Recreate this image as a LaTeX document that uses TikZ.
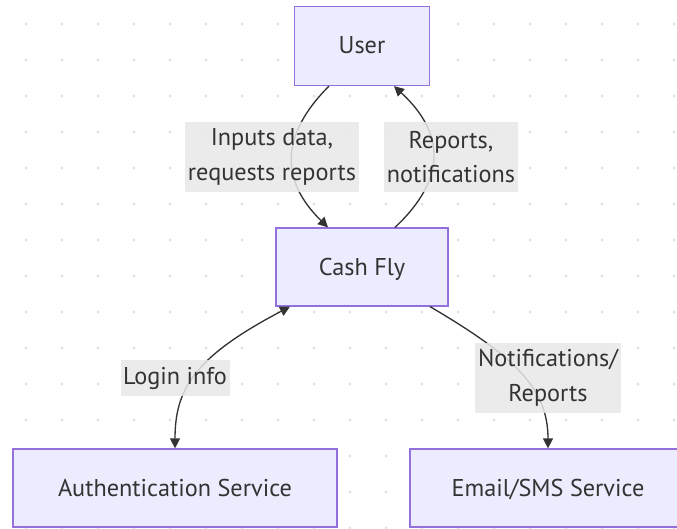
\documentclass[tikz,border=0pt]{standalone}
\usepackage{fontspec}
\setmainfont{PT Sans}
\usetikzlibrary{arrows.meta}
\definecolor{boxfill}{HTML}{ECECFF}
\definecolor{boxline}{HTML}{9370DB}
\definecolor{lblfill}{HTML}{E8E8E8}
\definecolor{ink}{HTML}{333333}
\definecolor{griddot}{HTML}{E2E2E2}
\tikzset{
  box/.style={draw=boxline, line width=0.9pt, fill=boxfill, text=ink,
    minimum height=58.5pt, text height=1.3em, text depth=0.1em,
    font=\fontsize{18.2}{22}\selectfont},
  flowlbl/.style={fill=lblfill, fill opacity=0.85, text opacity=1, text=ink,
    inner xsep=2pt, inner ysep=0pt, align=center,
    font=\fontsize{18.2}{26}\selectfont},
  flow/.style={draw=ink, line width=1pt, -{Triangle[length=7.5pt,width=7.5pt]}}
}
\begin{document}
\begin{tikzpicture}[x=0.75pt,y=-0.75pt]
\useasboundingbox (0,0) rectangle (677,528);
\clip (0,0) rectangle (677,528);
% dotted background
\foreach \i in {0,...,18}
  \foreach \j in {0,...,14}
    \fill[griddot] (26+36*\i,24+36*\j) circle (1.3pt);
% boxes
\node[box, minimum width=101.25pt, minimum height=59.25pt] (user) at (362,46) {User};
\node[box, minimum width=129pt] (cashfly) at (362,267) {Cash Fly};
\node[box, minimum width=243pt] (auth) at (175,488) {Authentication Service};
\node[box, minimum width=207pt] (mail) at (548,488) {Email/SMS Service};
% connectors
\draw[flow] ([xshift=-24.75pt]user.south) .. controls +(-49,49) and +(-48,-47) .. ([xshift=-25.5pt]cashfly.north);
\draw[flow] ([xshift=24.75pt]cashfly.north) .. controls +(51,-48) and +(52,48) .. ([xshift=24pt]user.south);
\draw[flow, {Triangle[length=7.5pt,width=7.5pt]}-{Triangle[length=7.5pt,width=7.5pt]}] ([xshift=-54pt]cashfly.south) .. controls +(-95,50) and +(0,-60) .. (auth.north);
\draw[flow] ([xshift=51pt]cashfly.south) .. controls +(85,50) and +(0,-60) .. (mail.north);
% connector labels
\node[flowlbl, minimum height=52.5pt] (inputs) at (272,157) {Inputs data,\\requests reports};
\node[flowlbl, minimum height=52.5pt] (reports) at (451,157) {Reports,\\notifications};
\node[flowlbl, minimum height=27pt] (login) at (175,378) {Login info};
\node[flowlbl, minimum height=52.5pt] (notes) at (548,378) {Notifications/\\Reports};
\end{tikzpicture}
\end{document}
